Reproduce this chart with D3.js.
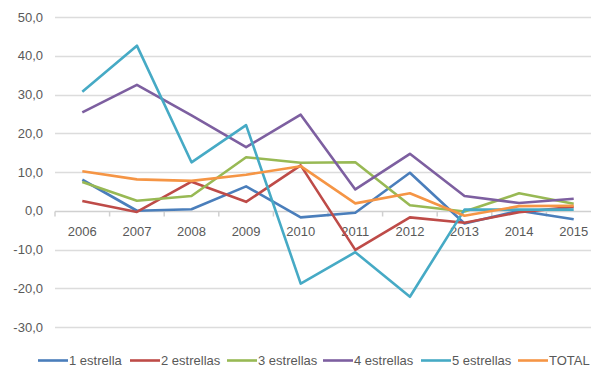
<!DOCTYPE html>
<html>
<head>
<meta charset="utf-8">
<script src="https://cdn.jsdelivr.net/npm/d3@7"></script>
<style>
  html, body { margin: 0; padding: 0; background: #fff; }
  svg { display: block; font-family: "Liberation Sans", Arial, sans-serif; }
</style>
</head>
<body>
<svg id="chart" width="591" height="367"></svg>
<script>
// Annual variation by hotel category, 2006–2015
const years = ["2006","2007","2008","2009","2010","2011","2012","2013","2014","2015"];
const yTicks = [-30, -20, -10, 0, 10, 20, 30, 40, 50];

const unaEstrella    = [8.0, 0.0, 0.4, 6.3, -1.7, -0.5, 9.8, -3.3, 0.0, -2.2];
const dosEstrellas   = [2.5, -0.3, 7.5, 2.3, 11.7, -10.1, -1.7, -3.1, -0.4, 1.0];
const tresEstrellas  = [7.4, 2.6, 3.8, 13.8, 12.4, 12.5, 1.4, -0.2, 4.5, 1.8];
const cuatroEstrellas= [25.4, 32.5, 24.6, 16.4, 24.8, 5.5, 14.7, 3.8, 2.0, 3.1];
const cincoEstrellas = [30.7, 42.6, 12.5, 22.1, -18.8, -10.7, -22.2, 0.3, 0.3, 0.3];
const total          = [10.2, 8.1, 7.7, 9.3, 11.5, 1.9, 4.5, -1.3, 1.2, 1.3];

const seriesNames  = ["1 estrella", "2 estrellas", "3 estrellas", "4 estrellas", "5 estrellas", "TOTAL"];
const seriesValues = [unaEstrella, dosEstrellas, tresEstrellas, cuatroEstrellas, cincoEstrellas, total];
const seriesColors = ["#4a7ebb", "#be4b48", "#98b954", "#7d5fa0", "#46aac5", "#f59545"];

const svg = d3.select("#chart");
const plot = { left: 55, right: 601 };

const x = d3.scaleBand().domain(years).range([plot.left, plot.right]);
const y = d3.scaleLinear().domain([-30, 50]).range([327, 17]);

// horizontal gridlines
svg.append("g")
  .selectAll("line")
  .data(yTicks.filter(d => d !== 0))
  .join("line")
  .attr("x1", plot.left).attr("x2", 591)
  .attr("y1", d => Math.round(y(d)) + 0.5).attr("y2", d => Math.round(y(d)) + 0.5)
  .attr("stroke", "#dcdcdc").attr("stroke-width", 1.5);

// y axis labels
svg.append("g")
  .selectAll("text")
  .data(yTicks)
  .join("text")
  .attr("x", 43)
  .attr("y", d => y(d))
  .attr("dy", "0.36em")
  .attr("text-anchor", "end")
  .attr("fill", "#595959")
  .attr("font-size", 13)
  .text(d => d3.format(".1f")(d).replace(".", ",").replace("−", "-"));

// category axis along zero
const zeroY = Math.round(y(0)) + 0.5;
const xAxis = svg.append("g");
xAxis.append("line")
  .attr("x1", plot.left).attr("x2", 591)
  .attr("y1", zeroY).attr("y2", zeroY)
  .attr("stroke", "#d0d0d0").attr("stroke-width", 1.5);
xAxis.selectAll("line.tick")
  .data(years)
  .join("line")
  .attr("class", "tick")
  .attr("x1", d => x(d)).attr("x2", d => x(d))
  .attr("y1", zeroY).attr("y2", zeroY + 5)
  .attr("stroke", "#d0d0d0").attr("stroke-width", 1.5);
xAxis.selectAll("text")
  .data(years)
  .join("text")
  .attr("x", d => x(d) + x.bandwidth() / 2)
  .attr("y", zeroY + 20)
  .attr("dy", "0.36em")
  .attr("text-anchor", "middle")
  .attr("fill", "#595959")
  .attr("font-size", 13)
  .text(d => d);

// series lines
const line = d3.line()
  .x((d, i) => x(years[i]) + x.bandwidth() / 2)
  .y(d => y(d));

svg.append("g")
  .selectAll("path")
  .data(seriesValues)
  .join("path")
  .attr("d", d => line(d))
  .attr("fill", "none")
  .attr("stroke", (d, i) => seriesColors[i])
  .attr("stroke-width", 2.6)
  .attr("stroke-linejoin", "round");

// legend
const legendX = [38, 130, 227, 323, 421, 518];
const legendY = 360.5;
const legend = svg.append("g")
  .selectAll("g")
  .data(seriesNames)
  .join("g")
  .attr("transform", (d, i) => `translate(${legendX[i]},${legendY})`);
legend.append("line")
  .attr("x1", 0).attr("x2", 30)
  .attr("y1", 0).attr("y2", 0)
  .attr("stroke", (d, i) => seriesColors[i])
  .attr("stroke-width", 2.6);
legend.append("text")
  .attr("x", 31)
  .attr("y", 0)
  .attr("dy", "0.36em")
  .attr("fill", "#595959")
  .attr("font-size", 13)
  .text(d => d);
</script>
</body>
</html>
